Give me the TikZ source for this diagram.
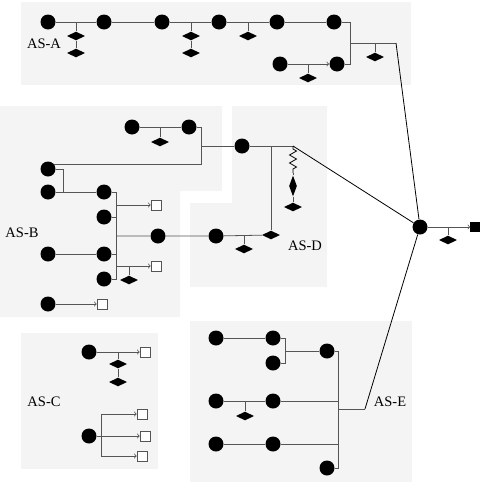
\documentclass[tikz,border=0pt]{standalone}
\usepackage{fontspec}
\setmainfont{Liberation Serif}
\usetikzlibrary{arrows}
\usetikzlibrary{positioning,shapes,decorations.pathmorphing}

\definecolor{areagray}{RGB}{244,244,244}
\definecolor{wiregray}{RGB}{85,85,85}

\begin{document}
\begin{tikzpicture} [x=1pt,y=-1pt,>=to,line width=0.8pt,
  bus/.style={circle,fill=black,inner sep=0pt,minimum size=15pt},
  load/.style={diamond,fill=black,inner sep=0pt,minimum width=18pt,minimum height=9pt},
  term/.style={draw=wiregray,fill=white,inner sep=0pt,minimum size=10pt,line width=0.6pt},
  wire/.style={draw=wiregray},
  tie/.style={draw=black},
  tag/.style={font=\fontsize{14.5}{17}\selectfont}]

  \useasboundingbox (0,0) rectangle (482,485);

  % areas
  \fill[areagray] (21,2) rectangle (411,85);
  \fill[areagray] (0,106) -- (222,106) -- (222,191) -- (180,191) -- (180,317) -- (0,317) -- cycle;
  \fill[areagray] (232,106) -- (327,106) -- (327,287) -- (190,287) -- (190,203) -- (232,203) -- cycle;
  \fill[areagray] (21,333) rectangle (158,469);
  \fill[areagray] (190,321) rectangle (412,482);

  \node[tag] (tA) at (44,44) {AS-A};
  \node[tag] (tB) at (22,233) {AS-B};
  \node[tag] (tC) at (44,402) {AS-C};
  \node[tag] (tD) at (305,246) {AS-D};
  \node[tag] (tE) at (390,402) {AS-E};

  % hub
  \node[bus] (h) at (420,227) {};
  \node[term,fill=black,draw=black,minimum size=9pt] (hs) at (475,227) {};
  \node[load] (lh) at (448,240) {};
  \path[wire] (lh |- h) -- (lh);
  \draw[wire,->] (h) -- (hs);

  % AS-A
  \node[bus] (a1) at (48,22) {};
  \node[bus] (a2) at (104,22) {};
  \node[bus] (a3) at (162,22) {};
  \node[bus] (a4) at (219,22) {};
  \node[bus] (a5) at (277,22) {};
  \node[bus] (a6) at (334,22) {};
  \node[bus] (a7) at (280,64) {};
  \node[bus] (a8) at (337,64) {};
  \node[load] (la1) at (76,36) {};
  \node[load] (la2) at (76,53) {};
  \node[load] (la3) at (191,36) {};
  \node[load] (la4) at (191,53) {};
  \node[load] (la5) at (248,36) {};
  \node[load] (la6) at (308,78) {};
  \node[load] (la7) at (375,57) {};
  \coordinate (ja1) at (350,22);
  \coordinate (ja2) at (350,64);
  \coordinate (ja3) at (350,43);
  \coordinate (ja4) at (396,43);

  \path[wire] (a1) -- (a2) -- (a3) -- (a4) -- (a5) -- (a6) -- (ja1) -- (ja2) -- (a8);
  \path[wire] (la1 |- a1) -- (la1) -- (la2);
  \path[wire] (la3 |- a3) -- (la3) -- (la4);
  \path[wire] (la5 |- a4) -- (la5);
  \draw[wire,->] (a7) -- (a8);
  \path[wire] (la6 |- a7) -- (la6);
  \path[wire] (ja3) -- (ja4);
  \path[wire] (la7 |- ja3) -- (la7);
  \path[tie] (ja4) -- (h);

  % AS-B
  \node[bus] (b1) at (132,127) {};
  \node[bus] (b2) at (189,127) {};
  \node[load] (lb1) at (160,142) {};
  \node[bus] (b3) at (48,169) {};
  \node[bus] (b4) at (48,192) {};
  \node[bus] (b5) at (104,192) {};
  \node[bus] (b6) at (104,217) {};
  \node[bus] (b7) at (48,254) {};
  \node[bus] (b8) at (104,254) {};
  \node[bus] (b9) at (104,279) {};
  \node[bus] (b10) at (158,236) {};
  \node[bus] (b11) at (48,304) {};
  \node[term] (sb1) at (156,205) {};
  \node[term] (sb2) at (156,266) {};
  \node[term] (sb3) at (102,304) {};
  \node[load] (lb2) at (129,280) {};
  \coordinate (jb1) at (201,146);
  \coordinate (jb2) at (201,127);
  \coordinate (jb4) at (63,169);
  \coordinate (jb5) at (63,192);
  \coordinate (jb6) at (116,192);
  \coordinate (jb7) at (116,279);

  \path[wire] (b1) -- (b2) -- (jb2) -- (jb2 |- b3.40) -- (b3.40);
  \path[wire] (lb1 |- b1) -- (lb1);
  \path[wire] (b3) -- (jb4) -- (jb5);
  \path[wire] (b4) -- (b5) -- (jb6) -- (jb7) -- (b9);
  \path[wire] (b6) -- (b6 -| jb6);
  \path[wire] (b7) -- (b8) -- (b8 -| jb6);
  \draw[wire,->] (jb6 |- sb1) -- (sb1);
  \draw[wire,->] (jb6 |- sb2) -- (sb2);
  \path[wire] (lb2 |- sb2) -- (lb2);
  \draw[wire,->] (b11) -- (sb3);

  % AS-D
  \node[bus] (d1) at (242,146) {};
  \node[bus] (d2) at (216,236) {};
  \node[load] (ld1) at (271,235) {};
  \node[load] (ld2) at (244,249) {};
  \node[load,minimum width=8pt,minimum height=21pt] (ld3) at (293,186) {};
  \node[load] (ld4) at (293,207) {};
  \coordinate (jd1) at (293,146);
  \coordinate (jd2) at (293,173);

  \path[wire] (jb1) -- (d1) -- (jd1);
  \path[wire] (ld1 |- d1) -- (ld1);
  \path[wire] (jb6 |- b10) -- (b10) -- (d2) -- (ld1);
  \path[wire] (ld2 |- d2) -- (ld2);
  \draw[black,decorate,decoration={zigzag,amplitude=3.5pt,segment length=8pt,pre length=3pt,post length=2pt}] (jd1) -- (jd2);
  \path[wire] (jd2) -- (ld3) -- (ld4);
  \path[tie] (jd1) -- (h);

  % AS-C
  \node[bus] (c1) at (89,352) {};
  \node[term] (sc1) at (145,352) {};
  \node[load] (lc1) at (118,364) {};
  \node[load] (lc2) at (118,382) {};
  \node[bus] (c2) at (89,436) {};
  \node[term] (sc2) at (142,414) {};
  \node[term] (sc3) at (145,436) {};
  \node[term] (sc4) at (142,456) {};
  \coordinate (jc1) at (101,414);
  \coordinate (jc2) at (101,456);

  \draw[wire,->] (c1) -- (sc1);
  \path[wire] (lc1 |- c1) -- (lc1) -- (lc2);
  \draw[wire,->] (c2) -- (sc3);
  \path[wire] (jc1) -- (jc2);
  \draw[wire,->] (jc1) -- (sc2);
  \draw[wire,->] (jc2) -- (sc4);

  % AS-E
  \node[bus] (e1) at (216,338) {};
  \node[bus] (e2) at (273,338) {};
  \node[bus] (e3) at (273,363) {};
  \node[bus] (e4) at (327,351) {};
  \node[bus] (e5) at (216,401) {};
  \node[bus] (e6) at (273,401) {};
  \node[bus] (e7) at (216,444) {};
  \node[bus] (e8) at (273,444) {};
  \node[bus] (e9) at (327,468) {};
  \node[load] (le1) at (245,416) {};
  \coordinate (je1) at (285,338);
  \coordinate (je2) at (285,363);
  \coordinate (je3) at (338,351);
  \coordinate (je4) at (338,468);
  \coordinate (je5) at (338,409);
  \coordinate (je6) at (365,409);

  \path[wire] (e1) -- (e2) -- (je1) -- (je2) -- (e3);
  \path[wire] (je1 |- e4) -- (e4) -- (je3) -- (je4) -- (e9);
  \path[wire] (e5) -- (e6) -- (e6 -| je3);
  \path[wire] (le1 |- e5) -- (le1);
  \path[wire] (e7) -- (e8) -- (e8 -| je3);
  \path[wire] (je5) -- (je6);
  \path[tie] (je6) -- (h);

\end{tikzpicture}
\end{document}
